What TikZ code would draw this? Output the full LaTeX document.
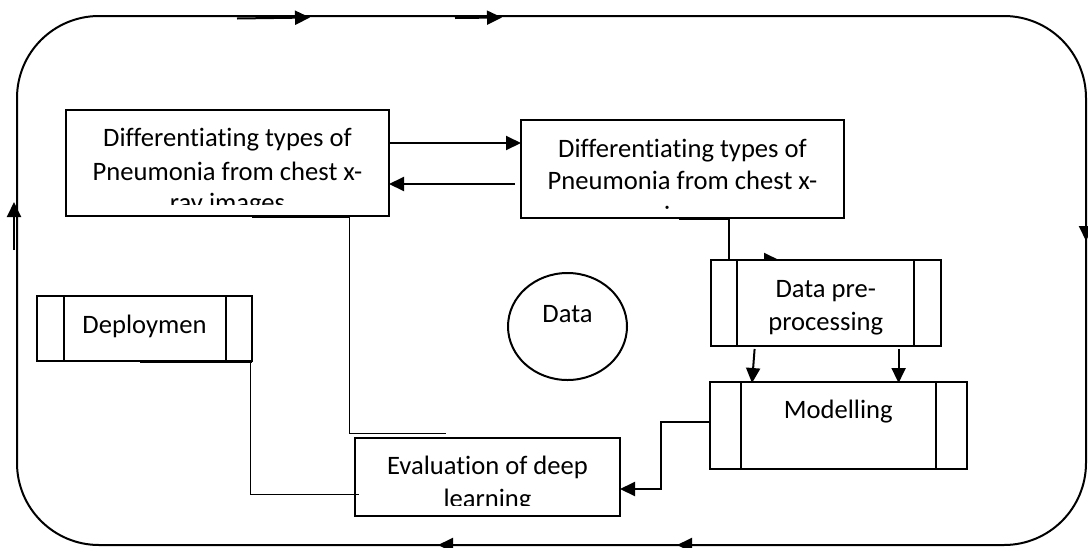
\documentclass[tikz,border=0pt]{standalone}
\usepackage{fontspec}
\setmainfont{Carlito}[Ligatures=NoCommon]
\usetikzlibrary{arrows.meta,shapes.geometric}
\begin{document}
\begin{tikzpicture}[x=1pt,y=-1pt,
  every node/.style={font=\fontsize{26.6}{33}\selectfont, inner sep=0pt, outer sep=0pt},
  boxline/.style={line width=2pt},
  thinline/.style={line width=1pt},
  stage/.style={draw, boxline, fill=white},
  arr/.style={line width=2pt, -{Triangle[length=15pt,width=14pt]}},
  txt/.style={anchor=base}]
\useasboundingbox (0,0) rectangle (1088,547);

% cycle frame with direction marks
\draw[boxline, rounded corners=82pt] (17,16) rectangle (1086,545);
\coordinate (ta0) at (237,18.5); \coordinate (ta1) at (310,17.5);
\coordinate (tb0) at (455,18);   \coordinate (tb1) at (502,17.5);
\coordinate (la0) at (14,250);   \coordinate (la1) at (14,202);
\coordinate (ra0) at (1086,215); \coordinate (ra1) at (1086,241);
\coordinate (ba0) at (477,545);  \coordinate (ba1) at (438,545);
\coordinate (bb0) at (750,545);  \coordinate (bb1) at (677,545);
\foreach \s/\e in {ta0/ta1, tb0/tb1, la0/la1, ra0/ra1, ba0/ba1, bb0/bb1}
  \draw[arr] (\s) -- (\e);

% problem statement boxes
\node[stage, minimum width=323pt, minimum height=106pt] (b1) at (227.5,163) {};
\node[stage, minimum width=323pt, minimum height=98pt] (b2) at (682.5,169) {};
\begin{scope}
  \clip (b1.north west) rectangle ([yshift=11.5pt]b1.south east);
  \node[txt] (b1a) at (227.5,146.7) {Differentiating types of};
  \node[txt] (b1b) at (227.5,180) {Pneumonia from chest x-};
  \node[txt] (b1c) at (227.5,211) {ray images};
\end{scope}
\begin{scope}
  \clip (b2.north west) rectangle ([yshift=9pt]b2.south east);
  \node[txt] (b2a) at (682.5,157) {Differentiating types of};
  \node[txt] (b2b) at (682.5,189) {Pneumonia from chest x-};
  \node[txt] (b2c) at (682.5,224) {ray images};
\end{scope}
\draw[arr] ([yshift=-33pt]b1.north east) -- ([yshift=-33pt]b1.north east -| b2.west);
\coordinate (r1) at ([xshift=-6pt,yshift=-64pt]b2.north west);
\draw[arr] (r1) -- (r1 -| b1.east);

% data
\node[draw, boxline, ellipse, minimum width=119pt, minimum height=107pt] (data) at (567.5,326.5) {};
\node[txt] (datal) at (567.5,322) {Data};

% link to pre-processing
\coordinate (p0) at (729,240);
\draw[boxline] (p0 |- b2.south) -- (p0);
\draw[boxline] ([yshift=-1pt]b2.south -| 679,0) -- ([yshift=-1pt]b2.south -| p0);
\coordinate (h0) at (752,260); \coordinate (h1) at (779,260);
\draw[arr] (h0) -- (h1);

% pre-processing
\node[stage, minimum width=230.5pt, minimum height=86pt] (pre) at (825.75,303) {};
\draw[boxline] (p0) -- (p0 |- pre.north);
\draw[boxline] ([xshift=26.5pt]pre.north west) -- ([xshift=26.5pt]pre.south west);
\draw[boxline] ([xshift=-27.5pt]pre.north east) -- ([xshift=-27.5pt]pre.south east);
\node[txt] (prea) at (825.75,297) {Data pre-};
\node[txt] (preb) at (825.75,330) {processing};

% modelling
\node[stage, minimum width=256.6pt, minimum height=87pt] (mod) at (838.3,425.5) {};
\draw[boxline] ([xshift=31pt]mod.north west) -- ([xshift=31pt]mod.south west);
\draw[boxline] ([xshift=-30.6pt]mod.north east) -- ([xshift=-30.6pt]mod.south east);
\node[txt] (modl) at (838.3,418) {Modelling};
\coordinate (s0) at (754.6,349); \coordinate (s1) at (752,383);
\coordinate (u0) at (898.6,349); \coordinate (u1) at (898.6,383);
\draw[arr] (s0) -- (s1);
\draw[arr] (u0) -- (u1);

% evaluation
\node[stage, minimum width=265pt, minimum height=78pt] (ev) at (487.5,477) {};
\begin{scope}
  \clip (ev.north west) rectangle ([yshift=11pt]ev.south east);
  \node[txt] (eva) at (487.5,474) {Evaluation of deep};
  \node[txt] (evb) at (487.5,507) {learning};
\end{scope}
\coordinate (q0) at (661,489);
\draw[arr] ([yshift=-40pt]mod.north west) -| (q0) -- (q0 -| ev.east);

% deployment
\node[stage, minimum width=215pt, minimum height=65pt] (dep) at (144.5,328.5) {};
\draw[boxline] ([xshift=27pt]dep.north west) -- ([xshift=27pt]dep.south west);
\draw[boxline] ([xshift=-26pt]dep.north east) -- ([xshift=-26pt]dep.south east);
\node[txt] (depl) at (144.5,333) {Deploymen};
\draw[boxline] ([yshift=-1pt]dep.south -| 140,0) -- ([yshift=-1pt]dep.south east);
\draw[boxline] ([yshift=-1pt]b1.south -| 252,0) -- ([yshift=-1pt]b1.south -| 349,0);

% thin feedback lines
\coordinate (k0) at (349,433); \coordinate (k1) at (446,433);
\draw[thinline] (k0 |- b1.south) -- (k0) -- (k1);
\coordinate (m0) at (250,494);
\draw[thinline] (m0 |- dep.south) -- (m0) -- ([xshift=4pt]m0 -| ev.west);
\end{tikzpicture}
\end{document}
